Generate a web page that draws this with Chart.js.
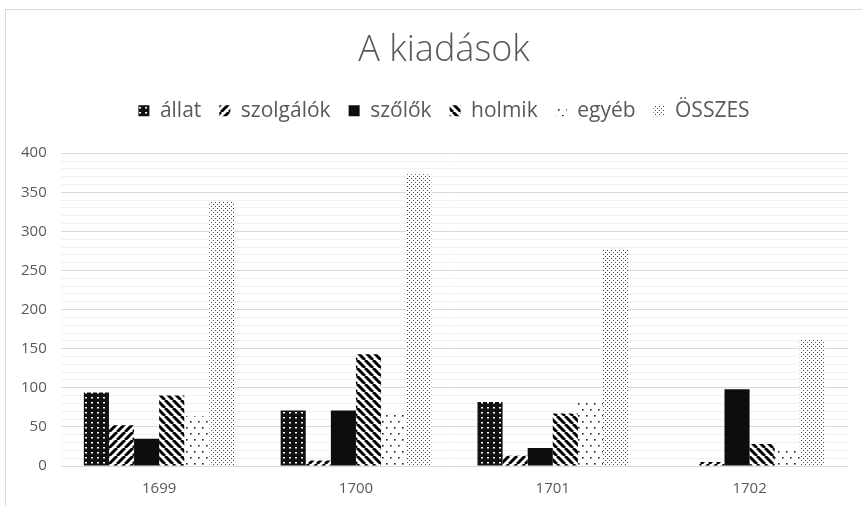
<!DOCTYPE html>
<html>
<head>
<meta charset="utf-8">
<script src="https://cdn.jsdelivr.net/npm/chart.js@4/dist/chart.umd.min.js"></script>
<style>
  html, body { margin: 0; padding: 0; background: #ffffff; }
  #wrap { position: relative; width: 862px; height: 506px; overflow: hidden; }
  #frame { position: absolute; left: 5px; top: 9px; width: 880px; height: 520px; border: 1px solid #d9d9d9; box-sizing: border-box; }
  #c { position: absolute; left: 5px; top: 0; }
</style>
</head>
<body>
<div id="wrap">
  <div id="frame"></div>
  <canvas id="c" width="878" height="521"></canvas>
</div>
<script>
const categories = ['1699', '1700', '1701', '1702'];
const seriesNames = ['állat', 'szolgálók', 'szőlők', 'holmik', 'egyéb', 'ÖSSZES'];
const allat     = [94, 71, 82, 0];
const szolgalok = [52, 7, 13, 5];
const szolok    = [35, 71, 23, 98];
const holmik    = [90, 143, 67, 28];
const egyeb     = [64, 70, 85, 24];
const osszes    = [338, 373, 277, 162];
const yTicks = [0, 50, 100, 150, 200, 250, 300, 350, 400];

function makePattern(w, h, draw) {
  const c = document.createElement('canvas');
  c.width = w; c.height = h;
  const g = c.getContext('2d');
  draw(g, w, h);
  return g.createPattern(c, 'repeat');
}
const pAllat = makePattern(6, 5, (g) => {
  g.fillStyle = '#111'; g.fillRect(0, 0, 6, 5);
  g.fillStyle = '#fff'; g.fillRect(2, 2, 2, 1.5);
});
function stripes(dir) {
  return makePattern(8, 8, (g, w, h) => {
    g.fillStyle = '#fff'; g.fillRect(0, 0, w, h);
    g.strokeStyle = '#000'; g.lineWidth = 3;
    g.beginPath();
    for (let k = -1; k <= 1; k++) {
      if (dir > 0) { g.moveTo(k * w, h); g.lineTo(k * w + w, 0); }
      else { g.moveTo(k * w, 0); g.lineTo(k * w + w, h); }
    }
    g.stroke();
  });
}
const pSzolg = stripes(1);
const pHolmik = stripes(-1);
const pEgyeb = makePattern(8, 12, (g) => {
  g.fillStyle = '#fff'; g.fillRect(0, 0, 8, 12);
  g.fillStyle = '#222';
  g.fillRect(1, 1, 1.6, 1.6);
  g.fillRect(5, 7, 1.6, 1.6);
});
const pOssz = makePattern(4, 4, (g) => {
  g.fillStyle = '#fff'; g.fillRect(0, 0, 4, 4);
  g.fillStyle = '#444';
  g.fillRect(0, 0, 1, 1);
  g.fillRect(2, 2, 1, 1);
});

const values = [allat, szolgalok, szolok, holmik, egyeb, osszes];
const fills = [pAllat, pSzolg, '#0d0d0d', pHolmik, pEgyeb, pOssz];

const datasets = seriesNames.map((n, i) => ({
  label: n,
  data: values[i],
  backgroundColor: fills[i],
  borderWidth: 0,
  barPercentage: 1.0,
  categoryPercentage: 0.765
}));

const txt = '#595959';
const fam = "'Open Sans', 'DejaVu Sans'";
const headerCenter = 439; // canvas x of title/legend centre

const layoutTweaks = {
  id: 'layoutTweaks',
  beforeInit(chart) {
    const lg = chart.legend;
    if (lg) {
      const fit = lg.fit;
      lg.fit = function () { fit.call(this); this.height += 22; };
    }
  },
  afterLayout(chart) {
    for (const box of [chart.titleBlock, chart.legend]) {
      if (!box) continue;
      const dx = headerCenter - (box.left + box.right) / 2;
      box.left += dx; box.right += dx;
    }
  }
};

new Chart(document.getElementById('c'), {
  type: 'bar',
  data: { labels: categories, datasets },
  plugins: [layoutTweaks],
  options: {
    responsive: false,
    animation: false,
    devicePixelRatio: 1,
    layout: { padding: { left: 2, right: 35, top: 25, bottom: 9 } },
    plugins: {
      title: {
        display: true,
        text: 'A kiadások',
        color: txt,
        font: { family: fam, size: 36, weight: '300' },
        padding: { top: 4, bottom: 10 }
      },
      legend: {
        display: true,
        labels: {
          color: txt,
          font: { family: fam, size: 21 },
          boxWidth: 11,
          boxHeight: 11,
          padding: 18
        }
      },
      tooltip: { enabled: false }
    },
    scales: {
      x: {
        grid: { display: false, drawTicks: false },
        border: { display: false },
        ticks: { color: txt, font: { family: fam, size: 15 }, padding: 14 }
      },
      y: {
        min: 0, max: 400,
        afterBuildTicks: (axis) => {
          const t = [];
          for (let v = 0; v <= 400; v += 10) t.push({ value: v });
          axis.ticks = t;
        },
        ticks: {
          autoSkip: false,
          color: txt,
          font: { family: fam, size: 15 },
          padding: 14,
          callback: (v) => (yTicks.includes(v) ? String(v) : '')
        },
        grid: {
          drawTicks: false,
          color: (ctx) => (ctx.tick && ctx.tick.value % 50 === 0 ? '#d9d9d9' : '#f0f0f0'),
          lineWidth: 1
        },
        border: { display: false }
      }
    }
  }
});
</script>
</body>
</html>
